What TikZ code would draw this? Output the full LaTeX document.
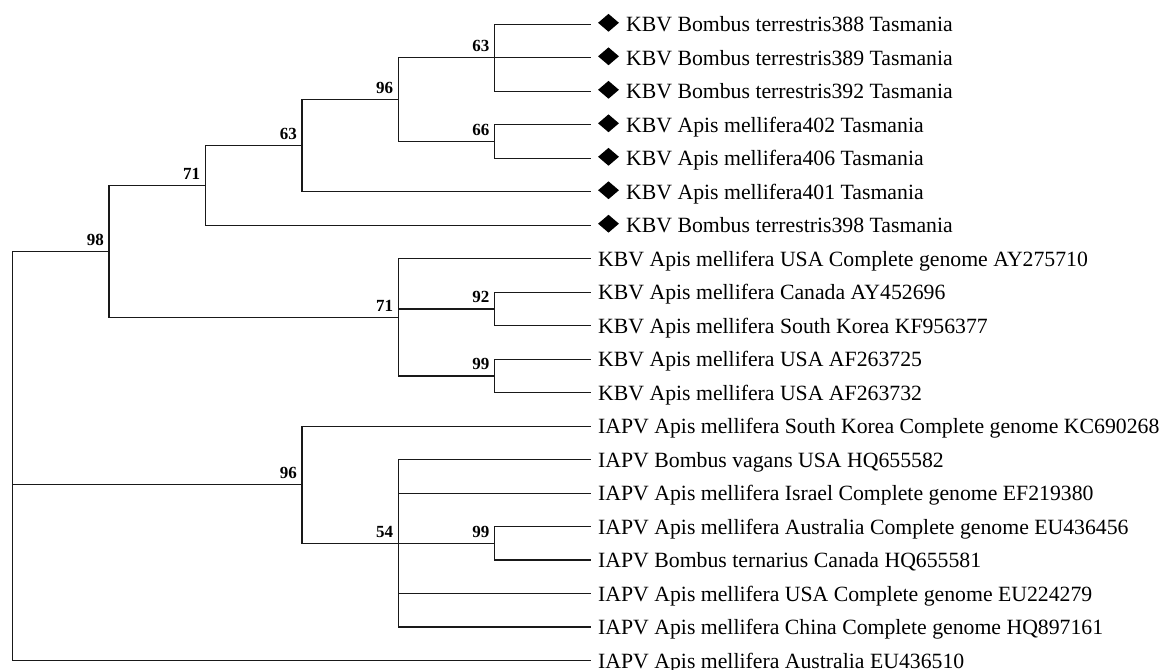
\documentclass[tikz,border=0pt]{standalone}
\usepackage{fontspec}
\setmainfont{Liberation Serif}
\usetikzlibrary{shapes.geometric}
\begin{document}
\begin{tikzpicture}[x=1pt,y=-1pt,
  br/.style={line width=1.3pt, draw=black!90},
  lab/.style={anchor=base west, inner sep=0pt, font=\fontsize{21.75}{26}\selectfont},
  bs/.style={anchor=base east, inner sep=0pt, font=\bfseries\fontsize{17}{20}\selectfont},
  mk/.style={diamond, fill=black, inner sep=0pt, minimum width=21pt, minimum height=18pt}]
\useasboundingbox (0,0) rectangle (1166,669);
% internal nodes
\coordinate (root) at (12.7,456.1);
\coordinate (n98)  at (109,251.6);
\coordinate (n71a) at (205.3,185.5);
\coordinate (n63b) at (302,145.7);
\coordinate (n96a) at (398.3,99.7);
\coordinate (n63a) at (494.5,57.8);
\coordinate (n66)  at (494.5,141.55);
\coordinate (n71b) at (398.3,317.4);
\coordinate (n92)  at (494.5,308.95);
\coordinate (n99a) at (494.5,375.95);
\coordinate (n96b) at (302,484.8);
\coordinate (n54)  at (398.3,543.4);
\coordinate (n99b) at (494.5,543.4);
% leaf ends
\foreach \i/\y in {0/24.3,1/57.8,2/91.3,3/124.8,4/158.3,5/191.75,6/225.2,7/258.7,8/292.2,9/325.7,10/359.2,11/392.7,12/426.2,13/459.7,14/493.2,15/526.7,16/560.1,17/593.6,18/627.1,19/660.6}
  \coordinate (l\i) at (591,\y);
% branches
\foreach \a/\b in {root/n98,root/n96b,root/l19,
  n98/n71a,n98/n71b,
  n71a/n63b,n71a/l6,
  n63b/n96a,n63b/l5,
  n96a/n63a,n96a/n66,
  n63a/l0,n63a/l1,n63a/l2,
  n66/l3,n66/l4,
  n71b/l7,n71b/n92,n71b/n99a,
  n92/l8,n92/l9,
  n99a/l10,n99a/l11,
  n96b/l12,n96b/n54,
  n54/l13,n54/l14,n54/n99b,n54/l17,n54/l18,
  n99b/l15,n99b/l16}
  \draw[br] (\a) |- (\b);
% bootstrap values
\foreach \n/\v in {n98/98,n71a/71,n63b/63,n96a/96,n63a/63,n66/66,n71b/71,n92/92,n99a/99,n96b/96,n54/54,n99b/99}
  \node[bs] (b\n) at ([xshift=-5pt,yshift=6pt]\n) {\v};
% markers and labels
\foreach \i/\t in {0/KBV Bombus terrestris388 Tasmania,
  1/KBV Bombus terrestris389 Tasmania,
  2/KBV Bombus terrestris392 Tasmania,
  3/KBV Apis mellifera402 Tasmania,
  4/KBV Apis mellifera406 Tasmania,
  5/KBV Apis mellifera401 Tasmania,
  6/KBV Bombus terrestris398 Tasmania}{
  \node[mk] (d\i) at ([xshift=17.5pt,yshift=1.5pt]l\i) {};
  \node[lab] (t\i) at ([xshift=35pt,yshift=-7.4pt]l\i) {\t};
}
\foreach \i/\t in {7/KBV Apis mellifera USA Complete genome AY275710,
  8/KBV Apis mellifera Canada AY452696,
  9/KBV Apis mellifera South Korea KF956377,
  10/KBV Apis mellifera USA AF263725,
  11/KBV Apis mellifera USA AF263732,
  12/IAPV Apis mellifera South Korea Complete genome KC690268,
  13/IAPV Bombus vagans USA HQ655582,
  14/IAPV Apis mellifera Israel Complete genome EF219380,
  15/IAPV Apis mellifera Australia Complete genome EU436456,
  16/IAPV Bombus ternarius Canada HQ655581,
  17/IAPV Apis mellifera USA Complete genome EU224279,
  18/IAPV Apis mellifera China Complete genome HQ897161,
  19/IAPV Apis mellifera Australia EU436510}
  \node[lab] (t\i) at ([xshift=7pt,yshift=-7.4pt]l\i) {\t};
\end{tikzpicture}
\end{document}
